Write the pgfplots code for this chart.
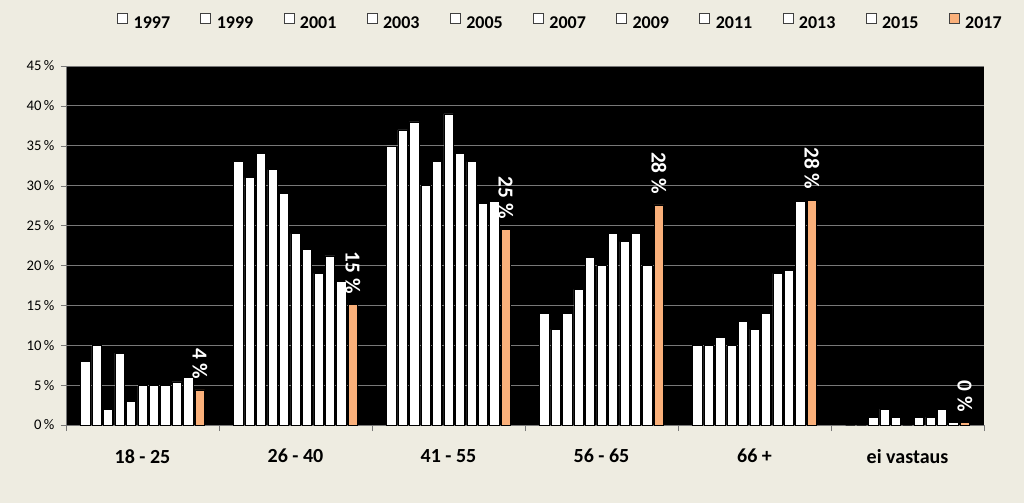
\documentclass[border=0pt]{standalone}
\usepackage{pgfplots}
\pgfplotsset{compat=1.18}
\usepackage{fontspec}
\setmainfont{Carlito}
\definecolor{bg}{RGB}{238,236,225}
\definecolor{orng}{RGB}{250,176,122}
\definecolor{grd}{RGB}{120,120,120}
\begin{document}
\begin{tikzpicture}
\fill[bg] (-49.5pt,-58.5pt) rectangle (718.5pt,318.75pt);
\begin{axis}[
  at={(0pt,0pt)}, anchor=south west,
  scale only axis, width=688.5pt, height=269.25pt,
  axis background/.style={fill=black},
  xmin=-0.5, xmax=5.5, ymin=0, ymax=45,
  ybar=1.6pt, bar width=7pt,
  axis x line*=bottom, axis y line*=left,
  axis line style={draw=grd, -},
  xtick={0,1,2,3,4,5},
  xticklabels={18 - 25, 26 - 40, 41 - 55, 56 - 65, 66 +, ei vastaus},
  major x tick style={draw=none},
  minor xtick={-0.5,0.5,1.5,2.5,3.5,4.5,5.5},
  minor x tick style={draw=grd},
  minor tick length=4.5pt,
  major tick length=4pt,
  tick align=outside,
  ytick={0,5,...,45},
  y tick style={draw=grd},
  ymajorgrids, grid style={draw=grd, line width=0.6pt},
  yticklabel={\pgfmathprintnumber{\tick}\,\%},
  /pgf/number format/assume math mode=true,
  yticklabel style={font=\fontsize{11}{13}\selectfont, inner sep=0pt, xshift=-4.5pt},
  xticklabel style={font=\bfseries\fontsize{15}{18}\selectfont, inner sep=0pt, yshift=-14pt},
  legend columns=11,
  legend style={draw=none, fill=none, at={(1.0196,1.1226)}, anchor=east, inner sep=0pt,
    font=\bfseries\fontsize{13.5}{16}\selectfont,
    nodes={inner sep=0pt},
    /tikz/every even column/.append style={column sep=22.7pt},
    /tikz/every odd column/.append style={column sep=4.3pt}},
  legend image code/.code={\draw[#1, draw=black!75, line width=0.5pt] (0pt,0pt) rectangle (7.5pt,7.5pt);},
]
\addplot[fill=white, draw=black] coordinates {(0,8) (1,33) (2,35) (3,14) (4,10) (5,0)};
\addplot[fill=white, draw=black] coordinates {(0,10) (1,31) (2,37) (3,12) (4,10) (5,0)};
\addplot[fill=white, draw=black] coordinates {(0,2) (1,34) (2,38) (3,14) (4,11) (5,1)};
\addplot[fill=white, draw=black] coordinates {(0,9) (1,32) (2,30) (3,17) (4,10) (5,2)};
\addplot[fill=white, draw=black] coordinates {(0,3) (1,29) (2,33) (3,21) (4,13) (5,1)};
\addplot[fill=white, draw=black] coordinates {(0,5) (1,24) (2,39) (3,20) (4,12) (5,0)};
\addplot[fill=white, draw=black] coordinates {(0,5) (1,22) (2,34) (3,24) (4,14) (5,1)};
\addplot[fill=white, draw=black] coordinates {(0,5) (1,19) (2,33) (3,23) (4,19) (5,1)};
\addplot[fill=white, draw=black] coordinates {(0,5.4) (1,21.2) (2,27.8) (3,24) (4,19.4) (5,2)};
\addplot[fill=white, draw=black] coordinates {(0,6) (1,18) (2,28) (3,20) (4,28) (5,0.3)};
\addplot[fill=orng, draw=black,
  point meta=explicit symbolic,
  nodes near coords={\pgfplotspointmeta~\%},
  nodes near coords style={font=\bfseries\fontsize{16}{18}\selectfont, text=white,
    rotate=-90, anchor=east, inner sep=0pt, outer xsep=8pt}]
  coordinates {(0,4.4) [4] (1,15.1) [15] (2,24.5) [25] (3,27.6) [28] (4,28.2) [28] (5,0.3) [0]};
\legend{1997,1999,2001,2003,2005,2007,2009,2011,2013,2015,2017}
\end{axis}
\pgfresetboundingbox
\useasboundingbox (-49.5pt,-58.5pt) rectangle (718.5pt,318.75pt);
\end{tikzpicture}
\end{document}
